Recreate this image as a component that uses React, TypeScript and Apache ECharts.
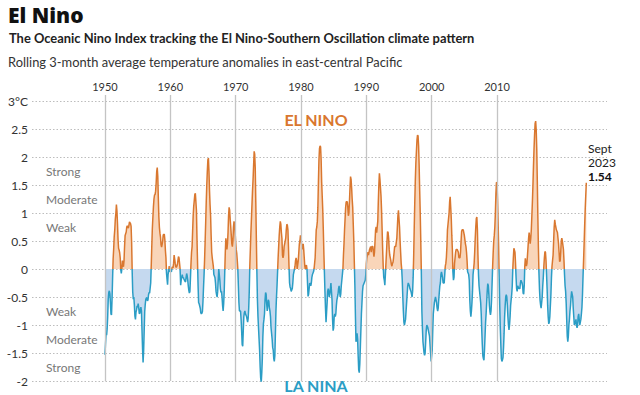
import React, { useEffect, useRef } from "react";
import * as echarts from "echarts";

// Oceanic Nino Index, rolling 3-month values (first value = Jan 1950, last = Sept 2023)
const oni1950s = [
  -1.53, -1.34, -1.16, -1.18, -1.07, -0.85, -0.54, -0.42, -0.39, -0.44, -0.6, -0.8,
  -0.82, -0.54, -0.17, 0.18, 0.36, 0.58, 0.7, 0.89, 0.99, 1.15, 1.04, 0.81,
  0.53, 0.37, 0.34, 0.29, 0.2, -0.01, -0.08, 0.0, 0.15, 0.1, 0.04, 0.15,
  0.4, 0.6, 0.63, 0.66, 0.75, 0.77, 0.75, 0.73, 0.78, 0.84, 0.84, 0.81,
  0.76, 0.47, -0.05, -0.41, -0.54, -0.5, -0.64, -0.84, -0.9, -0.77, -0.73, -0.66,
  -0.68, -0.62, -0.69, -0.8, -0.79, -0.72, -0.68, -0.75, -1.09, -1.42, -1.67, -1.47,
  -1.11, -0.76, -0.63, -0.54, -0.52, -0.51, -0.57, -0.55, -0.46, -0.42, -0.43, -0.43,
  -0.25, 0.06, 0.41, 0.72, 0.92, 1.11, 1.25, 1.32, 1.33, 1.39, 1.53, 1.74,
  1.81, 1.66, 1.27, 0.93, 0.74, 0.64, 0.57, 0.43, 0.39, 0.44, 0.5, 0.61,
  0.61, 0.62, 0.52, 0.33, 0.2, -0.07, -0.18, -0.28, -0.09, -0.03, 0.05, -0.04,
];
const oni1960s = [
  -0.05, -0.03, -0.05, 0.02, 0.04, 0.02, 0.1, 0.25, 0.18, 0.1, 0.04, 0.03,
  0.05, 0.08, 0.15, 0.22, 0.2, 0.1, 0.0, -0.29, -0.2, -0.15, -0.1, -0.16,
  -0.15, -0.18, -0.2, -0.22, -0.23, -0.15, -0.08, -0.12, -0.2, -0.3, -0.38, -0.43,
  -0.4, -0.16, 0.1, 0.3, 0.4, 0.68, 0.95, 1.12, 1.22, 1.33, 1.35, 1.2,
  1.05, 0.55, 0.12, -0.3, -0.6, -0.62, -0.62, -0.7, -0.78, -0.8, -0.79, -0.76,
  -0.58, -0.33, -0.1, 0.18, 0.5, 0.84, 1.2, 1.5, 1.75, 1.95, 1.98, 1.75,
  1.4, 1.15, 0.95, 0.6, 0.3, 0.2, 0.2, 0.05, -0.1, -0.1, -0.15, -0.25,
  -0.4, -0.46, -0.5, -0.4, -0.2, 0.0, 0.0, -0.2, -0.35, -0.42, -0.4, -0.5,
  -0.65, -0.75, -0.62, -0.4, -0.05, 0.3, 0.55, 0.45, 0.35, 0.45, 0.65, 0.95,
  1.1, 1.05, 0.88, 0.75, 0.6, 0.45, 0.4, 0.5, 0.75, 0.85, 0.8, 0.65,
];
const oni1970s = [
  0.5, 0.35, 0.28, 0.15, 0.0, -0.3, -0.6, -0.75, -0.75, -0.75, -0.9, -1.1,
  -1.35, -1.38, -1.1, -0.85, -0.78, -0.75, -0.8, -0.8, -0.85, -0.9, -0.95, -0.88,
  -0.7, -0.4, 0.05, 0.35, 0.65, 0.9, 1.15, 1.4, 1.6, 1.85, 2.1, 2.05,
  1.8, 1.2, 0.55, -0.05, -0.55, -0.85, -1.05, -1.25, -1.45, -1.75, -1.95, -2.03,
  -1.85, -1.6, -1.2, -0.98, -0.9, -0.8, -0.55, -0.42, -0.45, -0.62, -0.75, -0.65,
  -0.55, -0.58, -0.7, -0.75, -0.85, -1.05, -1.15, -1.25, -1.4, -1.45, -1.6, -1.65,
  -1.55, -1.15, -0.75, -0.5, -0.3, -0.05, 0.2, 0.4, 0.6, 0.75, 0.85, 0.8,
  0.65, 0.55, 0.25, 0.2, 0.25, 0.4, 0.45, 0.45, 0.55, 0.7, 0.8, 0.78,
  0.7, 0.4, 0.05, -0.25, -0.32, -0.35, -0.4, -0.4, -0.35, -0.25, -0.1, -0.05,
  -0.05, 0.05, 0.15, 0.2, 0.15, 0.0, 0.0, 0.15, 0.3, 0.45, 0.5, 0.6,
];
const oni1980s = [
  0.55, 0.45, 0.35, 0.4, 0.45, 0.35, 0.2, 0.05, 0.0, 0.05, 0.07, 0.0,
  -0.25, -0.49, -0.45, -0.35, -0.25, -0.25, -0.3, -0.25, -0.15, -0.1, -0.1, -0.05,
  0.0, 0.1, 0.2, 0.45, 0.7, 0.75, 0.85, 1.1, 1.55, 1.95, 2.15, 2.2,
  2.18, 1.95, 1.55, 1.3, 1.05, 0.7, 0.3, -0.05, -0.4, -0.7, -0.95, -0.95,
  -0.6, -0.4, -0.35, -0.4, -0.5, -0.45, -0.35, -0.25, -0.25, -0.55, -0.9, -1.1,
  -1.05, -0.85, -0.8, -0.85, -0.8, -0.65, -0.55, -0.5, -0.45, -0.35, -0.3, -0.4,
  -0.5, -0.45, -0.3, -0.2, -0.1, 0.0, 0.25, 0.45, 0.7, 0.9, 1.1, 1.2,
  1.2, 1.2, 1.1, 0.95, 1.0, 1.2, 1.45, 1.65, 1.6, 1.45, 1.25, 1.1,
  0.8, 0.5, 0.1, -0.3, -0.85, -1.3, -1.3, -1.15, -1.25, -1.55, -1.8, -1.85,
  -1.7, -1.4, -1.1, -0.8, -0.6, -0.4, -0.3, -0.3, -0.25, -0.25, -0.2, -0.1,
];
const oni1990s = [
  0.1, 0.2, 0.25, 0.3, 0.25, 0.3, 0.35, 0.35, 0.4, 0.3, 0.4, 0.4,
  0.4, 0.3, 0.22, 0.3, 0.5, 0.7, 0.75, 0.65, 0.65, 0.85, 1.2, 1.5,
  1.71, 1.6, 1.45, 1.3, 1.05, 0.7, 0.35, 0.05, -0.15, -0.2, -0.29, -0.1,
  0.1, 0.3, 0.5, 0.67, 0.65, 0.55, 0.35, 0.25, 0.2, 0.15, 0.08, 0.05,
  0.1, 0.12, 0.2, 0.3, 0.4, 0.4, 0.4, 0.4, 0.55, 0.75, 0.95, 1.05,
  1.05, 0.75, 0.5, 0.3, 0.1, 0.0, -0.2, -0.5, -0.75, -0.95, -1.0, -1.0,
  -0.9, -0.75, -0.6, -0.45, -0.3, -0.25, -0.25, -0.3, -0.35, -0.35, -0.4, -0.45,
  -0.5, -0.4, -0.15, 0.25, 0.75, 1.2, 1.6, 1.9, 2.1, 2.3, 2.39, 2.38,
  2.2, 1.85, 1.4, 1.0, 0.5, -0.05, -0.75, -1.05, -1.3, -1.4, -1.5, -1.54,
  -1.5, -1.3, -1.1, -1.0, -1.02, -1.05, -1.1, -1.15, -1.2, -1.35, -1.5, -1.65,
];
const oni2000s = [
  -1.65, -1.45, -1.1, -0.8, -0.7, -0.6, -0.6, -0.5, -0.5, -0.6, -0.7, -0.75,
  -0.7, -0.55, -0.42, -0.3, -0.25, -0.1, -0.05, -0.05, -0.15, -0.25, -0.25, -0.25,
  -0.1, 0.05, 0.1, 0.2, 0.4, 0.7, 0.8, 0.9, 1.0, 1.2, 1.29, 1.1,
  0.9, 0.6, 0.35, -0.05, -0.2, -0.15, 0.1, 0.2, 0.3, 0.35, 0.35, 0.35,
  0.35, 0.3, 0.2, 0.2, 0.2, 0.3, 0.5, 0.67, 0.7, 0.7, 0.7, 0.7,
  0.6, 0.6, 0.45, 0.4, 0.3, 0.15, -0.05, -0.05, -0.1, -0.2, -0.55, -0.75,
  -0.85, -0.75, -0.6, -0.4, -0.1, 0.0, 0.1, 0.3, 0.55, 0.75, 0.9, 0.93,
  0.7, 0.25, -0.1, -0.3, -0.4, -0.5, -0.6, -0.8, -1.1, -1.35, -1.55, -1.6,
  -1.63, -1.45, -1.2, -0.95, -0.8, -0.6, -0.4, -0.26, -0.3, -0.45, -0.65, -0.76,
  -0.82, -0.75, -0.55, -0.25, 0.05, 0.3, 0.5, 0.6, 0.75, 1.0, 1.35, 1.55,
];
const oni2010s = [
  1.53, 1.25, 0.85, 0.4, -0.15, -0.65, -1.05, -1.35, -1.6, -1.65, -1.62, -1.58,
  -1.4, -1.15, -0.85, -0.65, -0.5, -0.46, -0.5, -0.65, -0.85, -1.0, -1.09, -1.0,
  -0.85, -0.65, -0.55, -0.45, -0.3, 0.0, 0.2, 0.37, 0.37, 0.3, 0.1, -0.15,
  -0.35, -0.4, -0.3, -0.3, -0.35, -0.35, -0.35, -0.25, -0.2, -0.2, -0.25, -0.3,
  -0.43, -0.45, -0.3, 0.05, 0.19, 0.1, 0.05, 0.1, 0.25, 0.4, 0.55, 0.65,
  0.55, 0.45, 0.55, 0.7, 0.95, 1.2, 1.5, 1.85, 2.15, 2.4, 2.6, 2.64,
  2.48, 2.14, 1.58, 0.94, 0.39, -0.06, -0.36, -0.55, -0.64, -0.7, -0.6, -0.5,
  -0.3, -0.15, 0.05, 0.2, 0.31, 0.3, 0.15, -0.1, -0.35, -0.65, -0.85, -0.98,
  -0.95, -0.85, -0.65, -0.45, -0.15, 0.05, 0.15, 0.25, 0.5, 0.75, 0.88, 0.8,
  0.75, 0.7, 0.7, 0.65, 0.55, 0.45, 0.3, 0.13, 0.15, 0.3, 0.5, 0.55,
];
const oni2020s = [
  0.5, 0.5, 0.35, 0.15, -0.1, -0.3, -0.4, -0.6, -0.9, -1.2, -1.3, -1.2,
  -1.0, -0.9, -0.75, -0.65, -0.5, -0.4, -0.4, -0.5, -0.7, -0.85, -1.0, -1.0,
  -0.95, -0.9, -1.0, -1.05, -1.0, -0.85, -0.8, -0.9, -1.0, -1.0, -0.9, -0.8,
  -0.68, -0.45, -0.13, 0.16, 0.46, 0.78, 1.07, 1.31, 1.54,
];

const startYear = 1950;
const yearLabels = [1950, 1960, 1970, 1980, 1990, 2000, 2010, 2020];
const yearsWithLine = [1950, 1960, 1970, 1980, 1990, 2000, 2010];
const strengthLabels = ["Strong", "Moderate", "Weak", "Weak", "Moderate", "Strong"];
const strengthValues = [1.75, 1.25, 0.75, -0.75, -1.25, -1.75];

const ORANGE = "#d9772f";
const BLUE = "#2b9dc5";
const FONT = "Lato, 'Noto Sans', sans-serif";

export default function App() {
  const ref = useRef<HTMLDivElement>(null);

  useEffect(() => {
    const chart = echarts.init(ref.current!, null, { renderer: "svg" });
    const values = [oni1950s, oni1960s, oni1970s, oni1980s, oni1990s, oni2000s, oni2010s, oni2020s].flat();
    const lineData = values.map((v, i) => [i, v]);
    const posData = values.map((v, i) => [i, Math.max(v, 0)]);
    const negData = values.map((v, i) => [i, Math.min(v, 0)]);
    const toMonth = (y: number) => (y - startYear) * 12;
    const lastValue = values[values.length - 1];

    const gridTop = 101;
    const gridBottomPx = 381;
    const yPx = (v: number) => gridTop + ((3 - v) / 5) * (gridBottomPx - gridTop);

    // stroke gradient: orange above zero, blue below (offset from the line's own value range)
    const vMax = Math.max(...values);
    const vMin = Math.min(...values);
    const zeroOffset = vMax / (vMax - vMin);
    const lineColor = new echarts.graphic.LinearGradient(0, 0, 0, 1, [
      { offset: 0, color: ORANGE },
      { offset: zeroOffset, color: ORANGE },
      { offset: zeroOffset, color: BLUE },
      { offset: 1, color: BLUE },
    ]);

    chart.setOption({
      animation: false,
      textStyle: { fontFamily: FONT },
      grid: [
        { left: 32, right: 33, top: gridTop, bottom: 395 - gridBottomPx },
        { left: 32, right: 33, top: 95, bottom: 395 - gridBottomPx },
      ],
      xAxis: [
        { type: "value", gridIndex: 0, min: -134, max: 922, show: false, splitLine: { show: false } },
        { type: "value", gridIndex: 1, min: -134, max: 922, show: false, splitLine: { show: false } },
      ],
      yAxis: [
        {
          type: "value",
          gridIndex: 0,
          min: -2,
          max: 3,
          interval: 0.5,
          axisLine: { show: false },
          axisTick: { show: false },
          splitLine: { show: true, lineStyle: { color: "#bdbdbd", type: [1.5, 2], width: 1 } },
          axisLabel: {
            color: "#333",
            fontSize: 12,
            margin: 4,
            fontFamily: FONT,
            formatter: (v: number) => (v === 3 ? "3°C" : String(v)),
          },
        },
        { type: "value", gridIndex: 1, min: 0, max: 1, show: false, splitLine: { show: false } },
      ],
      series: [
        {
          type: "line",
          data: posData,
          showSymbol: false,
          silent: true,
          z: 2,
          lineStyle: { width: 0, opacity: 0 },
          areaStyle: { color: "#f9d5b9", opacity: 1 },
        },
        {
          type: "line",
          data: negData,
          showSymbol: false,
          silent: true,
          z: 2,
          lineStyle: { width: 0, opacity: 0 },
          areaStyle: { color: "#c5d9ef", opacity: 1 },
        },
        {
          type: "line",
          data: lineData,
          showSymbol: false,
          silent: true,
          z: 4,
          lineStyle: { width: 1.5, color: lineColor },
        },
        {
          type: "line",
          xAxisIndex: 1,
          yAxisIndex: 1,
          data: [[0, 0]],
          showSymbol: false,
          silent: true,
          z: 3,
          lineStyle: { opacity: 0 },
          markLine: {
            silent: true,
            symbol: ["none", "none"],
            animation: false,
            lineStyle: { color: "#c4c4c4", width: 1.3, type: "solid" },
            label: {
              show: true,
              position: "end",
              distance: 3,
              color: "#333",
              fontSize: 11,
              fontFamily: FONT,
              formatter: (p: any) => String(Math.round(startYear + p.value / 12)),
            },
            data: yearLabels.map((y) => ({
              xAxis: toMonth(y),
              lineStyle: yearsWithLine.includes(y) ? undefined : { opacity: 0 },
            })),
          },
        },
      ],
      graphic: [
        { type: "text", style: { x: 8, y: 15, text: "El Nino", font: `800 21px 'Open Sans', ${FONT}`, fill: "#111", verticalAlign: "middle" } },
        {
          type: "text",
          style: {
            x: 9, y: 38,
            text: "The Oceanic Nino Index tracking the El Nino-Southern Oscillation climate pattern",
            font: `bold 12.9px ${FONT}`, fill: "#222", verticalAlign: "middle",
          },
        },
        {
          type: "text",
          style: {
            x: 8, y: 62,
            text: "Rolling 3-month average temperature anomalies in east-central Pacific",
            font: `12.9px ${FONT}`, fill: "#333", verticalAlign: "middle",
          },
        },
        ...strengthLabels.map((t, i) => ({
          type: "text",
          z: 10,
          style: { x: 46, y: yPx(strengthValues[i]), text: t, font: `12px ${FONT}`, fill: "#777", verticalAlign: "middle" },
        })),
        { type: "text", z: 10, style: { x: 316, y: 119, text: "EL NINO", font: `bold 16px ${FONT}`, fill: ORANGE, align: "center", verticalAlign: "middle" } },
        { type: "text", z: 10, style: { x: 316, y: 385, text: "LA NINA", font: `bold 16px ${FONT}`, fill: BLUE, align: "center", verticalAlign: "middle" } },
        {
          type: "text",
          z: 10,
          style: {
            x: 588,
            y: 141,
            text: `{a|Sept}\n{a|2023}\n{b|${lastValue.toFixed(2)}}`,
            verticalAlign: "top",
            rich: {
              a: { fontSize: 12, lineHeight: 14, fontFamily: FONT, fill: "#222" },
              b: { fontSize: 12, lineHeight: 14, fontFamily: FONT, fontWeight: "bold", fill: "#111" },
            },
          },
        },
      ],
    });

    return () => chart.dispose();
  }, []);

  return <div ref={ref} style={{ position: "fixed", left: 0, top: 0, width: 640, height: 395, background: "#fff" }} />;
}
